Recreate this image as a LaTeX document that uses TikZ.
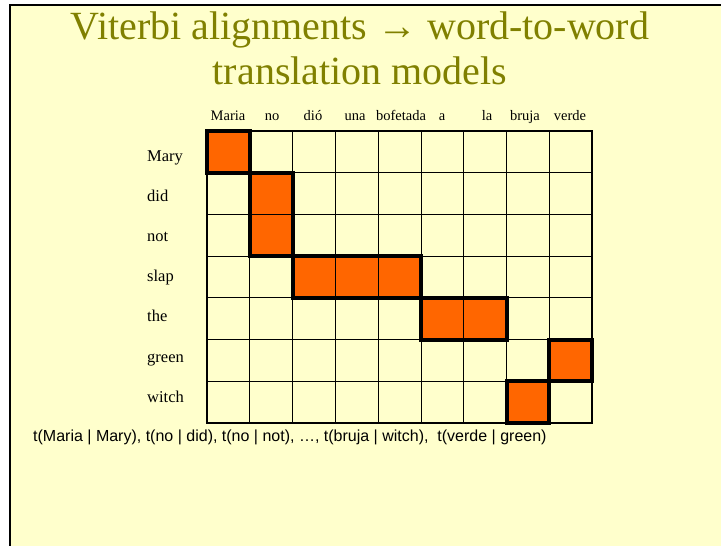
\documentclass[tikz,border=0pt]{standalone}
\usepackage{fontspec}
\setmainfont{Liberation Serif}
\newfontfamily\arialfont{Liberation Sans}
\usetikzlibrary{positioning}

\definecolor{slidebg}{HTML}{FFFFCC}
\definecolor{titleolive}{HTML}{808000}
\definecolor{cellorange}{HTML}{FF6600}

\begin{document}
\begin{tikzpicture}[x=1pt,y=-1pt]
        \tikzset{gridline/.style={black, line width=0.8pt},
                 alignbox/.style={black, line width=4pt},
                 title/.style={font=\fontsize{40}{44}\selectfont, text=titleolive, anchor=base, inner sep=0pt},
                 word/.style={font=\fontsize{14.5}{16}\selectfont, inner sep=0pt}}
        \useasboundingbox (0,0) rectangle (721,546);

        % slide
        \fill[white] (0,0) rectangle (721,546);
        \fill[slidebg] (10,5) rectangle (721,546);
        \draw[line width=2.5pt] (10,546) |- (721,5);

        \node[title] (title1) at (360,39) {Viterbi alignments → word-to-word};
        \node[title] (title2) at (360,84) {translation models};

        % spanish words
        \foreach \w/\x [count=\i] in {Maria/228, no/272, dió/313, una/355, bofetada/401, a/442, la/487, bruja/525, verde/570}
            \node[word, anchor=base] (sp\i) at (\x,120) {\w};
        % english words
        \foreach \w [count=\i] in {Mary, did, not, slap, the, green, witch}
            \node[word, font=\fontsize{16.5}{18}\selectfont, anchor=base west] (en\i) at (147,{161+40.2*(\i-1)}) {\w};

        \begin{scope}[shift={(207,131)}, x=42.8pt, y=-41.7pt]
            \foreach \c/\r in {0/0, 1/1, 1/2, 2/3, 3/3, 4/3, 5/4, 6/4, 8/5, 7/6}
                \fill[cellorange] (\c,\r) rectangle ++(1,1);
            \foreach \c in {1,...,8}
                \draw[gridline] (\c,0) -- (\c,7);
            \foreach \r in {1,...,6}
                \draw[gridline] (0,\r) -- (9,\r);
            \draw[black, line width=1.6pt] (0,0) rectangle (9,7);
            % alignment blocks
            \foreach \a/\b/\c/\d in {0/0/1/1, 1/1/2/3, 2/3/5/4, 5/4/7/5, 8/5/9/6, 7/6/8/7}
                \draw[alignbox] (\a,\b) rectangle (\c,\d);
        \end{scope}

        \node[font=\arialfont\fontsize{16}{18}\selectfont, anchor=base west, inner sep=0pt] (probs) at (33,441) {t(Maria | Mary), t(no | did), t(no | not), …, t(bruja | witch), \ t(verde | green)};
\end{tikzpicture}
\end{document}
